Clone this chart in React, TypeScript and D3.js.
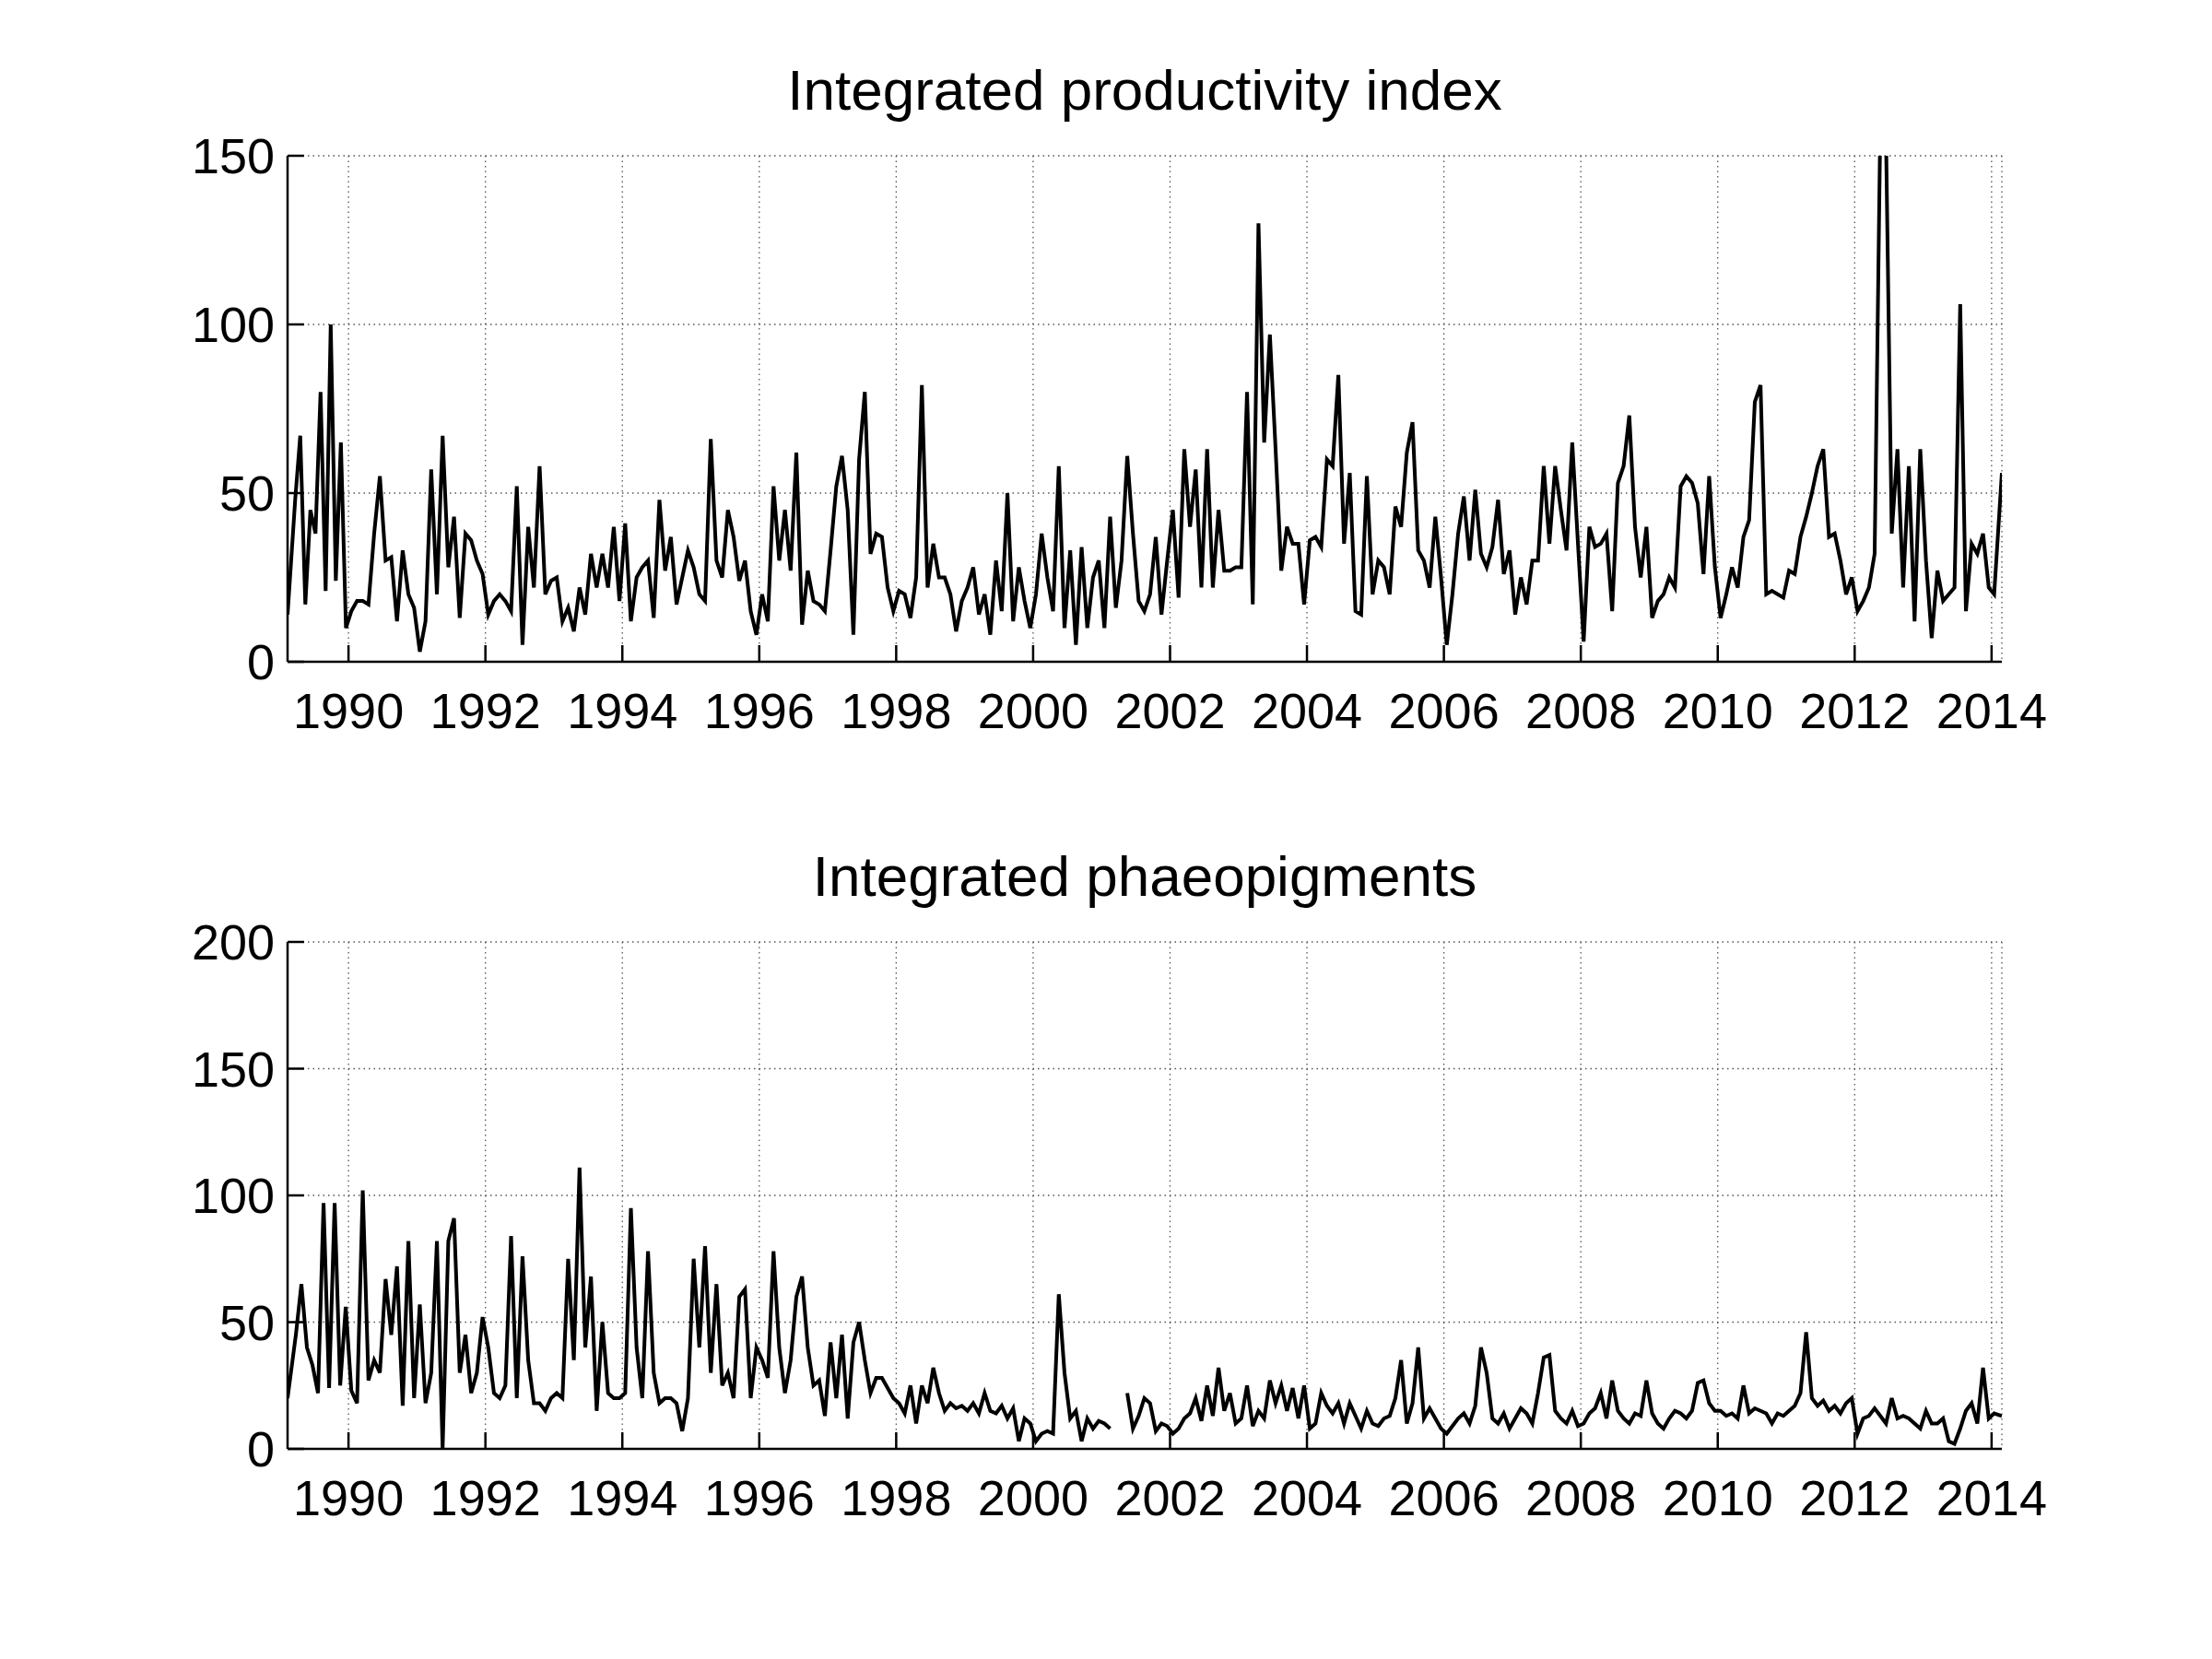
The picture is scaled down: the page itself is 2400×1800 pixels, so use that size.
import * as d3 from 'd3';

// values per calendar year; each year's samples are spread evenly over that year
const firstYearStart = 1989.11;
const lastYearEnd = 2014.15;

const productivity: number[][] = [
  [14, 48, 67, 17, 45, 38, 80, 21, 100, 24, 65, 10],
  [15, 18, 18, 17, 38, 55, 30, 31, 12, 33, 20, 16],
  [3, 12, 57, 20, 67, 28, 43, 13, 38, 36, 30, 26],
  [14, 18, 20, 18, 15, 52, 5, 40, 22, 58, 20, 24],
  [25, 12, 16, 9, 22, 14, 32, 22, 32, 22, 40, 18],
  [41, 12, 25, 28, 30, 13, 48, 27, 37, 17, 25, 33],
  [28, 20, 18, 66, 30, 25, 45, 37, 24, 30, 15, 8],
  [20, 12, 52, 30, 45, 27, 62, 11, 27, 18, 17, 15],
  [33, 52, 61, 45, 8, 60, 80, 32, 38, 37, 22, 15],
  [21, 20, 13, 25, 82, 22, 35, 25, 25, 20, 9, 18],
  [22, 28, 14, 20, 8, 30, 15, 50, 12, 28, 18, 10],
  [20, 38, 25, 15, 58, 10, 33, 5, 34, 10, 25, 30],
  [10, 43, 16, 30, 61, 38, 18, 15, 20, 37, 14, 30],
  [45, 19, 63, 40, 57, 22, 63, 22, 45, 27, 27, 28],
  [28, 80, 17, 130, 65, 97, 63, 27, 40, 35, 35, 17],
  [36, 37, 34, 60, 58, 85, 35, 56, 15, 14, 55, 20],
  [30, 28, 20, 46, 40, 62, 71, 33, 30, 22, 43, 25],
  [5, 20, 38, 49, 30, 51, 32, 28, 34, 48, 26, 33],
  [14, 25, 17, 30, 30, 58, 35, 58, 45, 33, 65, 35],
  [6, 40, 34, 35, 38, 15, 53, 58, 73, 40, 25, 40],
  [13, 18, 20, 25, 22, 52, 55, 53, 47, 26, 55, 28],
  [13, 20, 28, 22, 37, 42, 77, 82, 20, 21, 20, 19],
  [27, 26, 37, 43, 50, 58, 63, 37, 38, 30, 20, 25],
  [15, 18, 22, 32, 160, 155, 38, 63, 22, 58, 12, 63],
  [30, 7, 27, 18, 20, 22, 106, 15, 35, 32, 38, 22],
  [20, 56],
];

const phaeopigments: number[][] = [
  [20, 45, 65, 40, 33, 22, 97, 24, 97, 25, 56],
  [23, 18, 102, 27, 35, 30, 67, 45, 72, 17, 82, 20],
  [57, 18, 30, 82, 0, 82, 91, 30, 45, 22, 30, 52],
  [40, 22, 20, 25, 84, 20, 76, 35, 18, 18, 15, 20],
  [22, 20, 75, 35, 111, 40, 68, 15, 50, 22, 20, 20],
  [22, 95, 40, 20, 78, 30, 18, 20, 20, 18, 7, 20],
  [75, 40, 80, 30, 65, 25, 30, 20, 60, 63, 20, 40],
  [35, 28, 78, 40, 22, 35, 60, 68, 40, 25, 27, 13],
  [42, 20, 45, 12, 42, 50, 35, 22, 28, 28, 24, 20],
  [18, 14, 25, 10, 25, 18, 32, 22, 15, 18, 16, 17],
  [15, 18, 14, 22, 15, 14, 17, 12, 16, 3, 12, 10],
  [3, 6, 7, 6, 61, 30, 12, 15, 3, 12, 8, 11],
  [10, 8, NaN, NaN, 22, 8, 13, 20, 18, 7, 10, 9],
  [6, 8, 12, 14, 20, 11, 25, 13, 32, 15, 22, 10],
  [12, 25, 9, 15, 12, 27, 18, 25, 15, 24, 12, 25],
  [8, 10, 22, 17, 14, 18, 10, 18, 13, 8, 15, 10],
  [9, 12, 13, 20, 35, 10, 18, 40, 12, 16, 12, 8],
  [6, 9, 12, 14, 10, 17, 40, 30, 12, 10, 14, 8],
  [12, 16, 14, 10, 22, 36, 37, 15, 12, 10, 15, 9],
  [10, 14, 16, 22, 12, 27, 15, 12, 10, 14, 13, 27],
  [14, 10, 8, 12, 15, 14, 12, 15, 26, 27, 18, 15],
  [15, 13, 14, 12, 25, 14, 16, 15, 14, 10, 14, 13],
  [15, 17, 22, 46, 20, 17, 19, 15, 17, 14, 18, 20],
  [6, 12, 13, 16, 13, 10, 20, 12, 13, 12, 10, 8],
  [15, 10, 10, 12, 3, 2, 8, 15, 18, 10, 32, 12],
  [14, 13],
];

const yearTicks = d3.range(1990, 2015, 2);
const prodTicks = [0, 50, 100, 150];
const phaeoTicks = [0, 50, 100, 150, 200];

const W = 2400;
const H = 1800;
const left = 312;
const right = 2172;
const font = '"Liberation Sans", Arial, sans-serif';

const x = d3.scaleLinear().domain([firstYearStart, lastYearEnd]).range([left, right]);

function toPoints(rows: number[][]) {
  const pts: { t: number; v: number }[] = [];
  rows.forEach((row, k) => {
    const y0 = k === 0 ? firstYearStart : 1989 + k;
    const y1 = k === rows.length - 1 ? lastYearEnd : 1990 + k;
    row.forEach((v, j) => pts.push({ t: y0 + ((j + 0.5) / row.length) * (y1 - y0), v }));
  });
  // first and last samples sit on the axes edges
  pts[0].t = firstYearStart;
  pts[pts.length - 1].t = lastYearEnd;
  return pts;
}

function Panel({ id, title, rows, yMax, ticks, top, bottom }: {
  id: string; title: string; rows: number[][]; yMax: number; ticks: number[]; top: number; bottom: number;
}) {
  const y = d3.scaleLinear().domain([0, yMax]).range([bottom, top]);
  const line = d3.line<{ t: number; v: number }>()
    .defined((d) => !isNaN(d.v))
    .x((d) => x(d.t))
    .y((d) => y(d.v));
  const grid = { stroke: '#555', strokeWidth: 1.3, strokeDasharray: '1.5 4' };
  return (
    <g>
      <defs>
        <clipPath id={id}>
          <rect x={left} y={top} width={right - left} height={bottom - top} />
        </clipPath>
      </defs>
      {yearTicks.map((t) => (
        <line key={'gx' + t} x1={x(t)} x2={x(t)} y1={top} y2={bottom} {...grid} />
      ))}
      <line x1={right} x2={right} y1={top} y2={bottom} {...grid} />
      {ticks.map((t) => (
        <line key={'gy' + t} x1={left} x2={right} y1={y(t)} y2={y(t)} {...grid} />
      ))}
      <path d={line(toPoints(rows)) ?? ''} fill="none" stroke="#000" strokeWidth={4} clipPath={`url(#${id})`} />
      <line x1={left} x2={left} y1={top} y2={bottom} stroke="#000" strokeWidth={2.5} />
      <line x1={left} x2={right} y1={bottom} y2={bottom} stroke="#000" strokeWidth={2.5} />
      {ticks.map((t) => (
        <g key={'ty' + t}>
          <line x1={left} x2={left + 18} y1={y(t)} y2={y(t)} stroke="#000" strokeWidth={2.5} />
          <text x={left - 14} y={y(t)} dy="0.36em" textAnchor="end" fontSize={54} fontFamily={font}>{t}</text>
        </g>
      ))}
      {yearTicks.map((t) => (
        <g key={'tx' + t}>
          <line x1={x(t)} x2={x(t)} y1={bottom} y2={bottom - 18} stroke="#000" strokeWidth={2.5} />
          <text x={x(t)} y={bottom + 72} textAnchor="middle" fontSize={54} fontFamily={font}>{t}</text>
        </g>
      ))}
      <text x={(left + right) / 2} y={top - 50} textAnchor="middle" fontSize={62} fontFamily={font}>{title}</text>
    </g>
  );
}

export default function App() {
  return (
    <svg width={W} height={H} style={{ display: 'block', position: 'absolute', left: 0, top: 0, background: '#fff' }}>
      <rect width={W} height={H} fill="#fff" />
      <Panel id="c1" title="Integrated productivity index" rows={productivity} yMax={150} ticks={prodTicks} top={169} bottom={718} />
      <Panel id="c2" title="Integrated phaeopigments" rows={phaeopigments} yMax={200} ticks={phaeoTicks} top={1022} bottom={1572} />
    </svg>
  );
}
